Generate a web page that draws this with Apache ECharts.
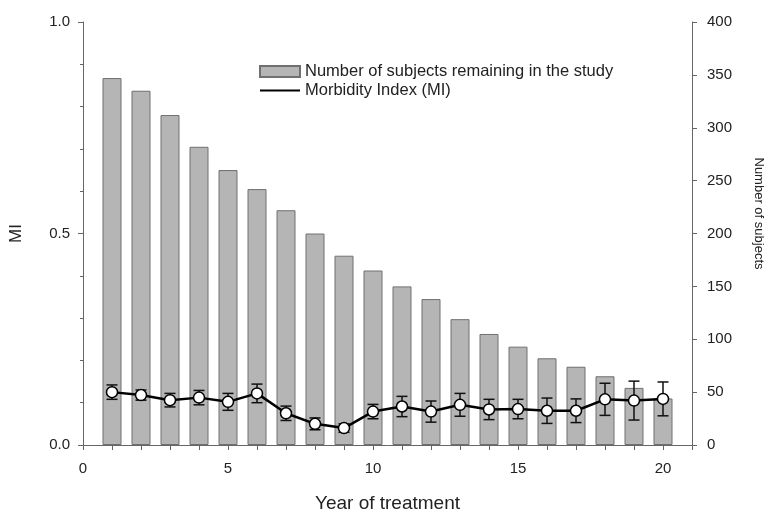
<!DOCTYPE html>
<html>
<head>
<meta charset="utf-8">
<script src="https://cdn.jsdelivr.net/npm/echarts@6/dist/echarts.min.js"></script>
<style>
	html, body { margin: 0; padding: 0; background: #fff; }
	#chart { width: 768px; height: 514px; }
</style>
</head>
<body>
<div id="chart"></div>
<script>
// year of treatment
var years = [1, 2, 3, 4, 5, 6, 7, 8, 9, 10, 11, 12, 13, 14, 15, 16, 17, 18, 19, 20];
// number of subjects remaining (right axis)
var subjects = [347, 335, 312, 282, 260, 242, 222, 200, 179, 165, 150, 138, 119, 105, 93, 82, 74, 65, 54, 44];
// morbidity index mean and error (left axis)
var miMean = [0.125, 0.118, 0.106, 0.112, 0.102, 0.122, 0.075, 0.050, 0.040, 0.079,
	0.091, 0.079, 0.095, 0.084, 0.085, 0.081, 0.081, 0.108, 0.105, 0.109];
var miErr = [0.017, 0.012, 0.016, 0.017, 0.020, 0.022, 0.017, 0.014, 0.010, 0.017,
	0.024, 0.025, 0.027, 0.024, 0.023, 0.030, 0.028, 0.038, 0.046, 0.040];

var barName = 'Number of subjects remaining in the study';
var lineName = 'Morbidity Index (MI)';
var font = 'Liberation Sans, Arial, sans-serif';

var barData = years.map(function (y, i) { return [y, subjects[i]]; });
var miData = years.map(function (y, i) { return [y, miMean[i]]; });
var errData = years.map(function (y, i) { return [y, miMean[i] - miErr[i], miMean[i] + miErr[i]]; });

var chart = echarts.init(document.getElementById('chart'), null, { renderer: 'canvas' });

// 误差线
function renderErr(params, api) {
	var x = api.value(0);
	var lo = api.coord([x, api.value(1)]);
	var hi = api.coord([x, api.value(2)]);
	var half = 5.5;
	var style = { stroke: '#111', lineWidth: 1.5 };
	return {
		type: 'group',
		children: [
			{ type: 'line', shape: { x1: lo[0], y1: lo[1], x2: hi[0], y2: hi[1] }, style: style },
			{ type: 'line', shape: { x1: lo[0] - half, y1: lo[1], x2: lo[0] + half, y2: lo[1] }, style: style },
			{ type: 'line', shape: { x1: hi[0] - half, y1: hi[1], x2: hi[0] + half, y2: hi[1] }, style: style }
		]
	};
}

var axisLine = { show: true, lineStyle: { color: '#666', width: 1 } };
var axisTick = { show: true, length: 5, lineStyle: { color: '#666' } };
var clear = 'rgba(0,0,0,0)';

chart.setOption({
	animation: false,
	textStyle: { fontFamily: font },
	grid: { left: 83, right: 76, top: 22, bottom: 69, outerBoundsMode: 'none', containLabel: false },
	legend: {
		orient: 'vertical',
		left: 254,
		top: 58,
		itemWidth: 40,
		itemHeight: 11,
		itemGap: 2,
		textStyle: { fontSize: 16.5, color: '#222', fontFamily: font },
		data: [
			{ name: barName, icon: 'rect' },
			{ name: lineName, itemStyle: { color: clear, borderColor: clear, borderWidth: 0 } }
		]
	},
	xAxis: {
		type: 'value',
		min: 0,
		max: 21,
		interval: 1,
		name: 'Year of treatment',
		nameLocation: 'middle',
		nameGap: 49,
		nameTextStyle: { fontSize: 19, color: '#222' },
		axisLine: axisLine,
		axisTick: axisTick,
		axisLabel: {
			fontSize: 15,
			color: '#222',
			margin: 16,
			formatter: function (v) { return v % 5 === 0 && v <= 20 ? v : ''; }
		},
		splitLine: { show: false }
	},
	yAxis: [
		{
			type: 'value',
			min: 0,
			max: 1,
			interval: 0.5,
			name: 'MI',
			nameLocation: 'middle',
			nameGap: 58,
			nameTextStyle: { fontSize: 17, color: '#222' },
			axisLine: axisLine,
			axisTick: axisTick,
			minorTick: { show: true, splitNumber: 5, length: 3, lineStyle: { color: '#666' } },
			axisLabel: {
				fontSize: 15,
				color: '#222',
				margin: 13,
				formatter: function (v) { return v.toFixed(1); }
			},
			splitLine: { show: false }
		},
		{
			type: 'value',
			min: 0,
			max: 400,
			interval: 50,
			name: 'Number of subjects',
			nameLocation: 'middle',
			nameGap: 60,
			nameRotate: -90,
			nameTextStyle: { fontSize: 13, color: '#222', padding: [0, 40, 0, 0] },
			position: 'right',
			axisLine: axisLine,
			axisTick: axisTick,
			axisLabel: { fontSize: 15, color: '#222', margin: 15 },
			splitLine: { show: false }
		}
	],
	series: [
		{
			name: barName,
			type: 'bar',
			yAxisIndex: 1,
			barWidth: 19,
			itemStyle: { color: '#b5b5b5', borderColor: '#707070', borderWidth: 1 },
			data: barData,
			z: 1
		},
		{
			name: lineName,
			type: 'line',
			yAxisIndex: 0,
			symbol: 'none',
			lineStyle: { color: '#000', width: 2.5 },
			itemStyle: { color: '#000' },
			data: miData,
			z: 3
		},
		{
			name: 'err',
			type: 'custom',
			yAxisIndex: 0,
			renderItem: renderErr,
			encode: { x: 0, y: [1, 2] },
			data: errData,
			z: 4
		},
		{
			name: 'points',
			type: 'scatter',
			yAxisIndex: 0,
			symbolSize: 11,
			itemStyle: { color: '#fff', borderColor: '#000', borderWidth: 1.5, opacity: 1 },
			data: miData,
			z: 5
		}
	]
});
</script>
</body>
</html>
